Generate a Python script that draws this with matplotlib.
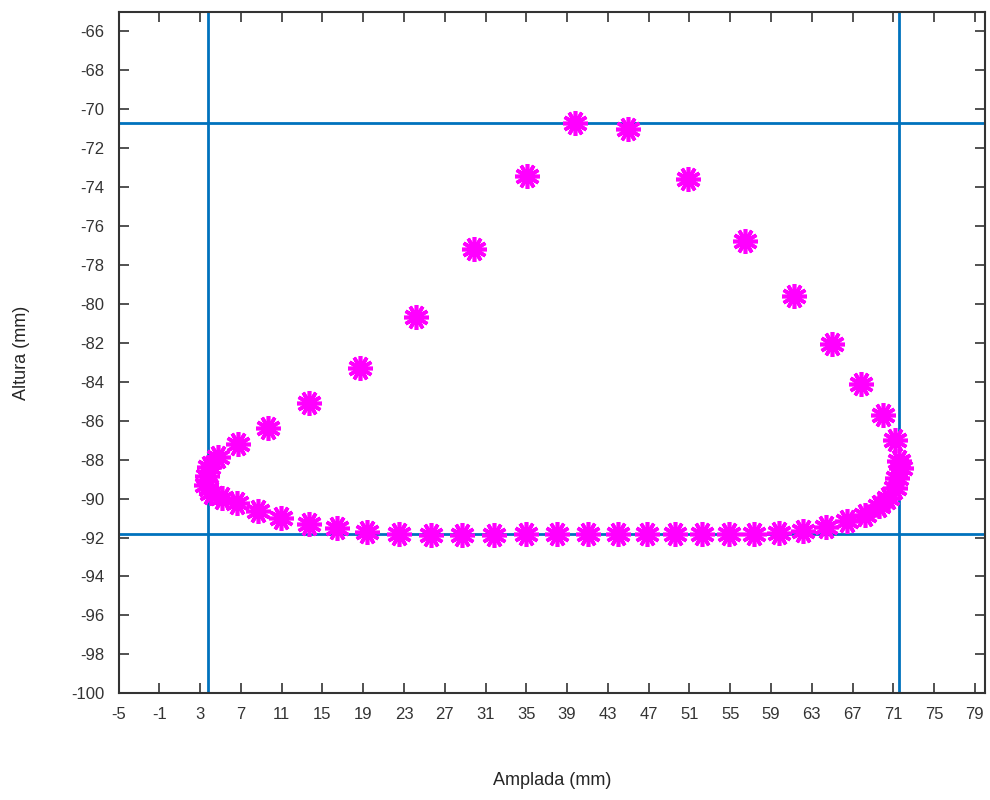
import numpy as np
import matplotlib
matplotlib.use('Agg')
import matplotlib.pyplot as plt

plt.rcParams['font.family'] = ['Liberation Sans', 'DejaVu Sans']
plt.rcParams['axes.unicode_minus'] = False

# Punts de la trajectòria (mm), llegits de la figura
amplada = [4.77, 6.70, 9.67, 13.66, 18.65, 24.17, 29.85, 35.04, 39.81, 45.0,
           50.91, 56.46, 61.26, 64.98, 67.87, 70.0, 71.15, 71.54, 71.71, 71.38,
           71.15, 70.5, 69.59, 68.21, 66.48, 64.36, 62.17, 59.79, 57.34, 54.9,
           52.22, 49.57, 46.86, 43.95, 41.01, 38.02, 34.98, 31.88, 28.71, 25.61,
           22.47, 19.41, 16.4, 13.66, 10.98, 8.69, 6.58, 5.11, 4.1, 3.6,
           3.7, 3.9]
altura = [-87.85, -87.2, -86.35, -85.1, -83.3, -80.65, -77.2, -73.45, -70.7, -71.0,
          -73.6, -76.75, -79.6, -82.05, -84.1, -85.7, -87.0, -88.05, -88.45, -88.95,
          -89.45, -89.95, -90.4, -90.85, -91.15, -91.45, -91.65, -91.77, -91.82, -91.83,
          -91.83, -91.83, -91.82, -91.8, -91.8, -91.82, -91.84, -91.85, -91.85, -91.85,
          -91.8, -91.7, -91.5, -91.28, -91.0, -90.65, -90.25, -89.95, -89.7, -89.3,
          -88.85, -88.4]

# Línies de límit
x_lims = [3.75, 71.6]
y_lims = [-70.7, -91.8]

fig = plt.figure(figsize=(9.9, 8.0), dpi=100)
ax = fig.add_axes([0.1197, 0.1334, 0.8753, 0.8516])

for xv in x_lims:
    ax.axvline(xv, color='#0072BD', linewidth=2, zorder=1)
for yv in y_lims:
    ax.axhline(yv, color='#0072BD', linewidth=2, zorder=1)

ax.plot(amplada, altura, linestyle='none', marker=(12, 2, 0), markersize=18,
        markeredgewidth=2.6, color='#FF00FF', zorder=2)

ax.set_xlim(-5, 80)
ax.set_ylim(-100, -65)
ax.set_xticks(np.arange(-5, 80, 4))
ax.set_yticks(np.arange(-100, -65, 2))

ax.tick_params(direction='in', length=7, width=1.2, top=True, right=True,
               labelsize=12, labelcolor='#333333', color='#333333', pad=10)
for s in ax.spines.values():
    s.set_linewidth(1.5)
    s.set_color('#333333')

ax.set_xlabel('Amplada (mm)', fontsize=13, color='#262626')
ax.set_ylabel('Altura (mm)', fontsize=13, color='#262626')
ax.xaxis.set_label_coords(0.5, -0.115)
ax.yaxis.set_label_coords(-0.102, 0.5)

fig.savefig('out.png', dpi=100)
